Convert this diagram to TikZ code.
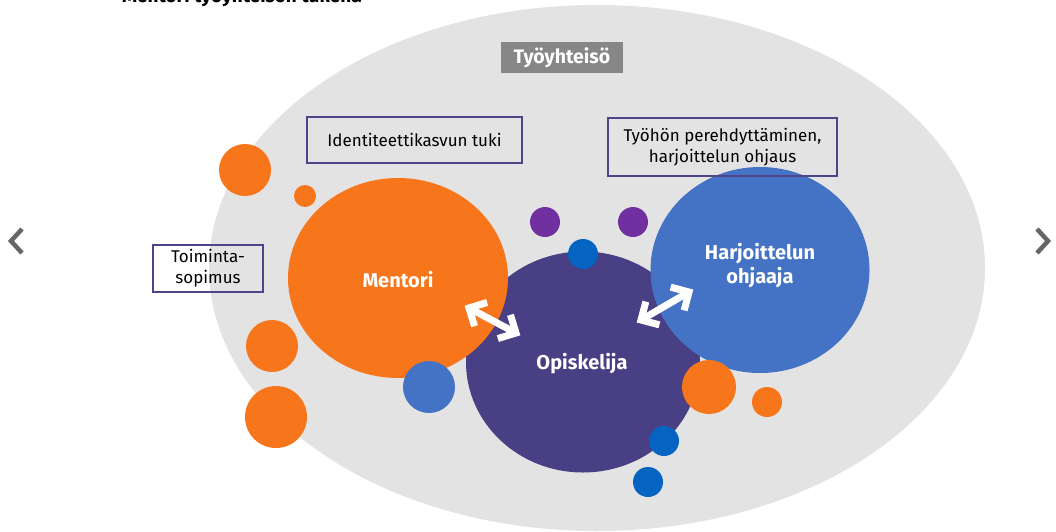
\documentclass[tikz,border=0pt]{standalone}
\usepackage{fontspec}
\setmainfont{Fira Sans}
\usetikzlibrary{calc,shapes.geometric}
\definecolor{bggray}{HTML}{E3E3E3}
\definecolor{morange}{HTML}{F8761B}
\definecolor{opurple}{HTML}{483F84}
\definecolor{hblue}{HTML}{4472C4}
\definecolor{dblue}{HTML}{0563C1}
\definecolor{spurple}{HTML}{7030A0}
\definecolor{boxline}{HTML}{4F4488}
\definecolor{labgray}{HTML}{878787}
\definecolor{navgray}{HTML}{666666}
\tikzset{
  tagbox/.style={draw=boxline, line width=2pt, inner sep=0pt, font=\fontsize{17}{21}\selectfont, align=center},
  bigtext/.style={text=white, font=\fontsize{20}{24}\selectfont\bfseries, align=center},
  dblarrow/.style={draw=white, line width=7pt, line join=miter, line cap=butt},
  nav/.style={draw=navgray, line width=4.5pt, line join=miter}
}
\begin{document}
\begin{tikzpicture}[x=1pt,y=-1pt]
\clip (0,0) rectangle (1056,532);
\useasboundingbox (0,0) rectangle (1056,532);
\fill[white] (0,0) rectangle (1056,532);
% title (cut off at the top, as in the original)
\node[anchor=base west, inner sep=0pt, font=\fontsize{19}{23}\selectfont\bfseries] (title) at (122,2.5) {Mentori työyhteisön tukena};
% workplace ellipse
\node[ellipse, fill=bggray, draw=none, minimum width=776, minimum height=526, inner sep=0pt] (work) at (597,268) {};
\node[fill=labgray, text=white, font=\fontsize{19.5}{23}\selectfont\bfseries, minimum width=122, minimum height=31, inner sep=0pt] (tyo) at (562,57.5) {Työyhteisö};
% main circles
\node[ellipse, fill=opurple, minimum width=234, minimum height=221, inner sep=0pt] (opis) at (583,362) {};
\node[ellipse, fill=morange, minimum width=220, minimum height=200, inner sep=0pt] (ment) at (398,278) {};
\node[ellipse, fill=hblue, minimum width=219, minimum height=206, inner sep=0pt] (harj) at (760,270) {};
\node[bigtext] (mentt) at (398,280) {Mentori};
\node[bigtext] (opist) at (582,364) {Opiskelija};
\node[bigtext] (harjt) at (760,266) {Harjoittelun\\ohjaaja};
% small circles
\node[circle, fill=morange, minimum size=52, inner sep=0pt] (o1) at (245,170) {};
\node[circle, fill=morange, minimum size=22, inner sep=0pt] (o2) at (305,196) {};
\node[circle, fill=spurple, minimum size=30, inner sep=0pt] (p1) at (545,222) {};
\node[circle, fill=spurple, minimum size=30, inner sep=0pt] (p2) at (633,222) {};
\node[circle, fill=dblue, minimum size=30, inner sep=0pt] (b1) at (583,254) {};
\node[circle, fill=morange, minimum size=52, inner sep=0pt] (o3) at (272,346) {};
\node[circle, fill=hblue, minimum size=52, inner sep=0pt] (b2) at (429,387) {};
\node[circle, fill=morange, minimum size=62, inner sep=0pt] (o4) at (276,417) {};
\node[circle, fill=morange, minimum size=54, inner sep=0pt] (o5) at (709,387) {};
\node[circle, fill=morange, minimum size=30, inner sep=0pt] (o6) at (767,402) {};
\node[circle, fill=dblue, minimum size=30, inner sep=0pt] (b3) at (664,441) {};
\node[circle, fill=dblue, minimum size=30, inner sep=0pt] (b4) at (648,482) {};
% text boxes
\node[tagbox, minimum width=215, minimum height=46] (ident) at (414.5,140) {Identiteettikasvun tuki};
\node[tagbox, minimum width=229, minimum height=58] (perehd) at (722.5,147) {Työhön perehdyttäminen,\\harjoittelun ohjaus};
\node[tagbox, minimum width=110, minimum height=47] (toim) at (208,268.5) {Toiminta-\\sopimus};
% double arrows
\coordinate (a1) at (469,308);
\coordinate (a2) at (516,333);
\coordinate (c1) at (641,320);
\coordinate (c2) at (689,292);
\draw[dblarrow] (a1) -- (a2);
\draw[dblarrow] ($(a1)!19pt!45:(a2)$) -- (a1) -- ($(a1)!19pt!-45:(a2)$);
\draw[dblarrow] ($(a2)!19pt!45:(a1)$) -- (a2) -- ($(a2)!19pt!-45:(a1)$);
\draw[dblarrow] (c1) -- (c2);
\draw[dblarrow] ($(c1)!19pt!45:(c2)$) -- (c1) -- ($(c1)!19pt!-45:(c2)$);
\draw[dblarrow] ($(c2)!19pt!45:(c1)$) -- (c2) -- ($(c2)!19pt!-45:(c1)$);
% navigation chevrons
\coordinate (l1) at (22,229);
\coordinate (l2) at (11,241);
\coordinate (l3) at (22,253);
\draw[nav] (l1) -- (l2) -- (l3);
\coordinate (r1) at (1037,229);
\coordinate (r2) at (1048,241);
\coordinate (r3) at (1037,253);
\draw[nav] (r1) -- (r2) -- (r3);
\end{tikzpicture}
\end{document}
